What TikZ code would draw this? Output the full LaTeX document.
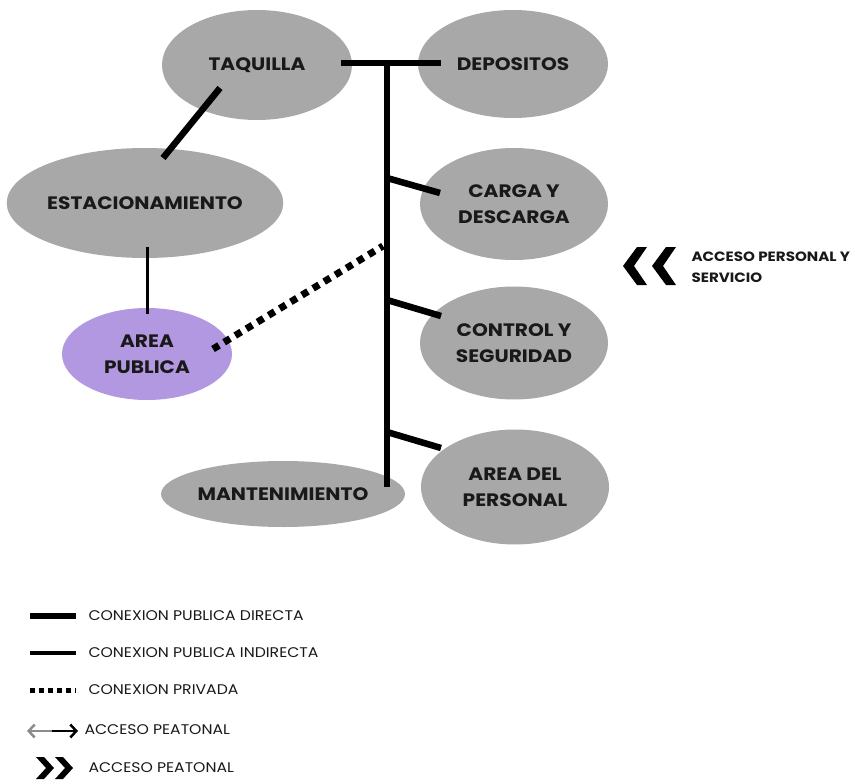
\documentclass[tikz,border=0pt]{standalone}
\usepackage{fontspec}
\usetikzlibrary{shapes.geometric,arrows.meta,calc}
\setmainfont{Poppins}
\newfontfamily\widefont[FakeStretch=1.12]{Poppins}
\definecolor{nodegray}{RGB}{168,168,168}
\definecolor{pubpurple}{RGB}{178,152,224}
\definecolor{arrgray}{RGB}{140,140,140}
\definecolor{txt}{RGB}{25,25,25}
\begin{document}
\begin{tikzpicture}[x=1pt,y=-1pt,
  area/.style={ellipse,fill=nodegray,inner sep=0pt,align=center,text=txt,
    font=\widefont\fontsize{18}{26}\selectfont\bfseries},
  direct/.style={line width=6.5pt},
  indirect/.style={line width=3pt},
  private/.style={line width=7pt,dash pattern=on 7pt off 6pt},
  legtext/.style={anchor=west,text=txt,font=\widefont\fontsize{14}{16}\selectfont},
  chev/.style={fill=black}]
\useasboundingbox (0,0) rectangle (855,784);
% nodes
\node[area,minimum width=190pt,minimum height=110pt] (taq) at (257,65) {TAQUILLA};
\node[area,minimum width=190pt,minimum height=108pt] (dep) at (513,64) {DEPOSITOS};
\node[area,minimum width=270pt,minimum height=110pt] (est) at (145,203) {ESTACIONAMIENTO};
\node[area,minimum width=188pt,minimum height=112pt] (car) at (514,204) {CARGA Y\\DESCARGA};
\node[area,fill=pubpurple,minimum width=170pt,minimum height=92pt] (pub) at (147,354) {AREA\\PUBLICA};
\node[area,minimum width=188pt,minimum height=113pt] (con) at (514,343) {CONTROL Y\\SEGURIDAD};
\node[area,minimum width=244pt,minimum height=66pt] (man) at (283,494) {MANTENIMIENTO};
\node[area,minimum width=188pt,minimum height=115pt] (per) at (515,487) {AREA DEL\\PERSONAL};
% spine coordinates
\coordinate (ttop) at (387,60);
\coordinate (tbot) at (387,487);
\coordinate (tl) at ($(taq.center)+(84,-2)$);
\coordinate (tr) at ($(dep.center)+(-72,-1)$);
\coordinate (b1) at (387,178);
\coordinate (b2) at (387,300);
\coordinate (b3) at (387,432);
\coordinate (c1) at ($(car.center)+(-74,-11)$);
\coordinate (c2) at ($(con.center)+(-73,-27)$);
\coordinate (c3) at ($(per.center)+(-74,-39)$);
\coordinate (pv) at (383,246);
\coordinate (pp) at ($(pub.center)+(66,-5)$);
\coordinate (q1) at ($(taq.center)+(-37,23)$);
\coordinate (e1) at ($(est.center)+(18,-45)$);
\coordinate (e2) at ($(est.center)+(2,44)$);
\coordinate (p2) at ($(pub.center)+(0,-40)$);
% connectors
\draw[direct] (tl) -- (tr);
\draw[direct] (ttop) -- (tbot);
\draw[direct] (b1) -- (c1);
\draw[direct] (b2) -- (c2);
\draw[direct] (b3) -- (c3);
\draw[direct] (q1) -- (e1);
\draw[indirect] (e2) -- (p2);
\draw[private] (pp) -- (pv);
% right legend: acceso personal y servicio
\fill[chev] (623,266) -- (637,247) -- (647,247) -- (634,266) -- (647,285) -- (637,285) -- cycle;
\fill[chev] (652,266) -- (666,247) -- (676,247) -- (663,266) -- (676,285) -- (666,285) -- cycle;
\node[anchor=west,align=left,text=txt,font=\widefont\fontsize{13.5}{21}\selectfont\bfseries] (aps) at (688,267) {ACCESO PERSONAL Y\\SERVICIO};
% bottom legend
\coordinate (l1a) at (30,616); \coordinate (l1b) at (76,616);
\coordinate (l2a) at (30,653); \coordinate (l2b) at (76,653);
\coordinate (l3a) at (30,690); \coordinate (l3b) at (76,690);
\coordinate (l4a) at (27,731); \coordinate (l4b) at (78,731);
\coordinate (l4m) at ($(l4a)!0.5!(l4b)$);
\draw[line width=5.5pt] (l1a) -- (l1b);
\draw[line width=3.5pt] (l2a) -- (l2b);
\draw[line width=5pt,dash pattern=on 5pt off 4pt] (l3a) -- (l3b);
\draw[line width=2.5pt,arrgray,-{Straight Barb[length=6pt,width=13pt]}] (l4m) -- (l4a);
\draw[line width=2.5pt,black,-{Straight Barb[length=6pt,width=13pt]}] ($(l4m)+(-1,0)$) -- (l4b);
\fill[chev] (54,768) -- (44,757) -- (36,757) -- (46,768) -- (36,779) -- (44,779) -- cycle;
\fill[chev] (73,768) -- (63,757) -- (55,757) -- (65,768) -- (55,779) -- (63,779) -- cycle;
\node[legtext] (t1) at (85,616) {CONEXION PUBLICA DIRECTA};
\node[legtext] (t2) at (85,653) {CONEXION PUBLICA INDIRECTA};
\node[legtext] (t3) at (85,690) {CONEXION PRIVADA};
\node[legtext] (t4) at (81,730) {ACCESO PEATONAL};
\node[legtext] (t5) at (85,768) {ACCESO PEATONAL};
\end{tikzpicture}
\end{document}
